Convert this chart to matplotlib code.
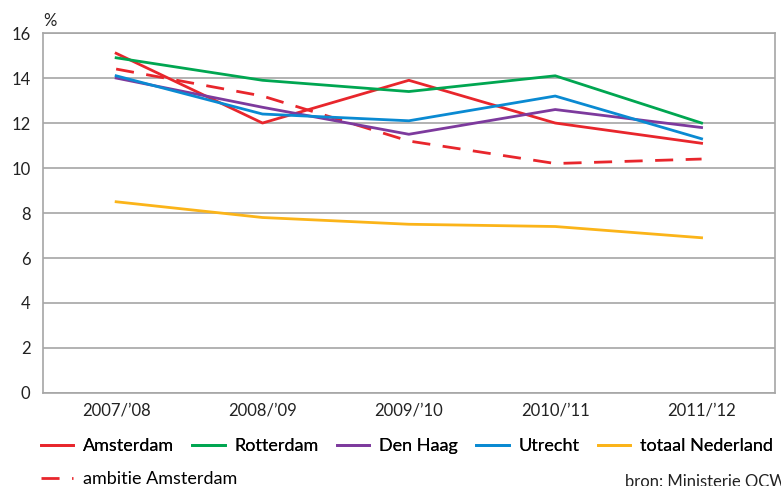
import matplotlib.pyplot as plt

plt.rcParams['font.family'] = ['Lato', 'DejaVu Sans']

# Data
years = ["2007/\u201908", "2008/\u201909", "2009/\u201910", "2010/\u201911", "2011/\u201912"]
amsterdam = [15.1, 12.0, 13.9, 12.0, 11.1]
rotterdam = [14.9, 13.9, 13.4, 14.1, 12.0]
den_haag = [14.0, 12.7, 11.5, 12.6, 11.8]
utrecht = [14.1, 12.4, 12.1, 13.2, 11.3]
totaal = [8.5, 7.8, 7.5, 7.4, 6.9]
ambitie = [14.4, 13.2, 11.2, 10.2, 10.4]

fig = plt.figure(figsize=(7.81, 4.86), dpi=100)
ax = fig.add_axes([0.055, 0.1914, 0.937, 0.7406])

x = range(len(years))
l1, = ax.plot(x, amsterdam, color='#e8262c', lw=2, label='Amsterdam')
l6, = ax.plot(x, ambitie, color='#e8262c', lw=2, ls=(0, (6.5, 4.5)), label='ambitie Amsterdam')
l2, = ax.plot(x, rotterdam, color='#00a651', lw=2, label='Rotterdam')
l3, = ax.plot(x, den_haag, color='#7d3a9d', lw=2, label='Den Haag')
l4, = ax.plot(x, utrecht, color='#0a8ad2', lw=2, label='Utrecht')
l5, = ax.plot(x, totaal, color='#fbb419', lw=2, label='totaal Nederland')

ax.set_xlim(-0.5, 4.5)
ax.set_ylim(0, 16)
ax.set_yticks(range(0, 17, 2))
ax.set_xticks(list(x))
ax.set_xticklabels(years)
ax.tick_params(length=0, labelsize=12, colors='#222222', pad=7)
ax.tick_params(axis='y', pad=9)
ax.grid(axis='y', color='#a6a6a6', lw=1.2)
ax.set_axisbelow(True)
for s in ax.spines.values():
    s.set_color('#a6a6a6')
    s.set_linewidth(1.2)

fig.text(0.056, 0.957, '%', fontsize=12, color='#222222', ha='left', va='center')

# legend: five entries on the first row, the ambition line below
leg_kw = dict(frameon=False, fontsize=13, handlelength=1.8, columnspacing=1.0,
              handletextpad=0.55, borderaxespad=0, borderpad=0)
leg1 = fig.legend(handles=[l1, l2, l3, l4, l5], loc='upper left',
                  bbox_to_anchor=(0.052, 0.098), ncol=5, **leg_kw)
fig.legend(handles=[l6], loc='upper left', bbox_to_anchor=(0.052, 0.031), **leg_kw)
fig.add_artist(leg1)

fig.text(0.80, 0.024, 'bron: Ministerie OCW', fontsize=12, color='#222222', va='top')

fig.savefig('out.png', dpi=100)
